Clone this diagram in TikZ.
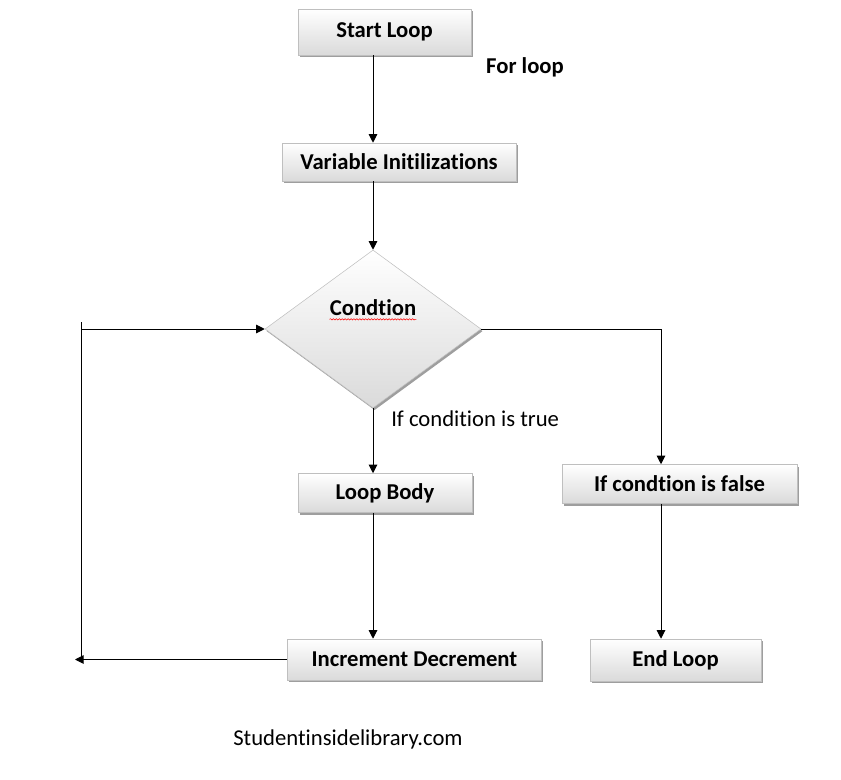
\documentclass[tikz,border=0pt]{standalone}
\usepackage{fontspec}
\setmainfont{Carlito}[Ligatures=CommonOff]
\usepackage{tikz}
\usetikzlibrary{arrows.meta,positioning,shapes.geometric,shadows,decorations.pathmorphing}
\definecolor{boxline}{HTML}{BFBFBF}
\definecolor{boxbot}{HTML}{DADADA}
\definecolor{shade}{HTML}{9E9E9E}
\definecolor{ink}{HTML}{000000}

\begin{document}
\begin{tikzpicture}[
  x=0.75pt, y=-0.75pt,
  font=\fontsize{17}{20}\selectfont,
  box/.style={draw=boxline, top color=white, bottom color=boxbot, inner sep=0pt, align=center, text=ink, font=\fontsize{17}{20}\selectfont\bfseries, drop shadow={shadow xshift=1.2pt, shadow yshift=-1.6pt, fill=shade, opacity=1}},
  dec/.style={diamond, draw=boxline, top color=white, bottom color=boxbot, inner sep=0pt, minimum width=162pt, minimum height=118.5pt, drop shadow={shadow xshift=1.2pt, shadow yshift=-1.6pt, fill=shade, opacity=1}},
  txt/.style={inner sep=0pt, text=ink},
  arr/.style={-{Triangle[length=6.5pt,width=6.5pt]}, draw=ink, line width=0.75pt},
  ln/.style={draw=ink, line width=0.75pt}
]
\useasboundingbox (0,0) rectangle (841,780);

\node[box, minimum width=129.75pt, minimum height=34.5pt] (start) at (384.5,32) {Start Loop};
\node[txt, font=\fontsize{17}{20}\selectfont\bfseries] (forlbl) at (525,67) {For loop};
\node[box, minimum width=175.5pt, minimum height=28.5pt] (init) at (399,162) {Variable Initilizations};
\node[dec] (cond) at (373,329) {};
\node[txt, font=\fontsize{17}{20}\selectfont\bfseries] (condlbl) at (373,308) {Condtion};
\node[txt, anchor=west] (truelbl) at (391,419) {If condition is true};
\node[box, minimum width=130.5pt, minimum height=29.25pt] (body) at (385,493) {Loop Body};
\node[box, minimum width=190.5pt, minimum height=30.75pt] (incdec) at (414.5,659.5) {Increment Decrement};
\node[box, minimum width=176.25pt, minimum height=29.25pt] (nofalse) at (679.5,484) {If condtion is false};
\node[box, minimum width=128.25pt, minimum height=31.5pt] (endloop) at (675.5,660) {End Loop};
\node[txt] (site) at (348,739) {Studentinsidelibrary.com};

\coordinate (backtop) at (81,322);
\coordinate (backbot) at (81,658);
\coordinate (backend) at (75,659.5);
\coordinate (rightx) at (661,329);

% spell check squiggle under Condtion
\draw[red, line width=0.4pt, decorate, decoration={snake, amplitude=0.5pt, segment length=2.2pt}]
  ([yshift=-2.6pt]condlbl.base west) -- ([yshift=-2.6pt]condlbl.base east);

\draw[arr] (cond.north |- start.south) -- (cond.north |- init.north);
\draw[arr] (cond.north |- init.south) -- (cond.north);
\draw[arr] (cond.south) -- (cond.south |- body.north);
\draw[arr] (cond.south |- body.south) -- (cond.south |- incdec.north);
\draw[arr] (incdec.west) -- (backend);
\draw[ln] (backtop) -- (backbot);
\draw[arr] (backtop |- cond.west) -- (cond.west);
\draw[arr] (cond.east) -| (rightx |- nofalse.north);
\draw[arr] (rightx |- nofalse.south) -- (rightx |- endloop.north);
\end{tikzpicture}
\end{document}
